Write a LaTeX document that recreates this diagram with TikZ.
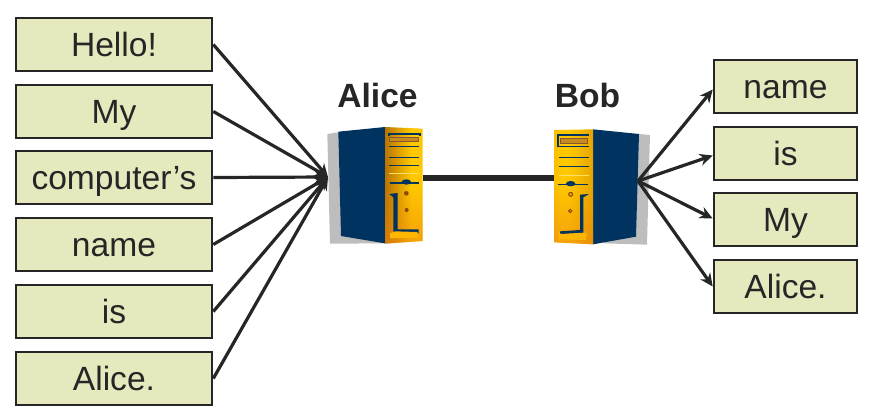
\documentclass[tikz,border=0pt]{standalone}
\usepackage{fontspec}
\setmainfont{Liberation Sans}
\usetikzlibrary{arrows.meta,fadings}
\definecolor{ink}{HTML}{262626}
\definecolor{boxfill}{HTML}{E6E9BE}
\definecolor{navy}{HTML}{00335F}
\definecolor{shadowgray}{HTML}{BDBDBD}
\definecolor{golddark}{HTML}{B87400}
\definecolor{goldmid}{HTML}{FFC800}
\definecolor{goldend}{HTML}{E9A800}
\definecolor{slotgold}{HTML}{C98A1E}
\definecolor{knob}{HTML}{8A4B00}
\pgfdeclarehorizontalshading{alicegold}{100bp}{color(0bp)=(golddark); color(25bp)=(golddark); color(60bp)=(goldmid); color(70bp)=(goldmid); color(100bp)=(goldend)}
\pgfdeclarehorizontalshading{bobgold}{100bp}{color(0bp)=(goldend); color(35bp)=(goldmid); color(45bp)=(goldmid); color(72bp)=(goldend); color(100bp)=(golddark)}
\tikzset{
  word/.style={draw=ink,line width=2.6pt,fill=boxfill,text=ink,inner sep=0pt,font=\fontsize{33.6}{33.6}\selectfont,anchor=center,text height=23.5pt,text depth=0pt},
  leftword/.style={word,minimum width=196pt,minimum height=53pt},
  rightword/.style={word,minimum width=143pt,minimum height=53pt},
  who/.style={text=ink,inner sep=0pt,font=\fontsize{33.6}{33.6}\selectfont\bfseries},
  link/.style={draw=ink,line width=3.2pt},
  arrowlink/.style={link,-{Stealth[length=13pt,width=12pt]}},
  wire/.style={draw=ink,line width=6pt},
  panelline/.style={draw=navy,line width=1.2pt},
  zoomA/.style={x=0.33333pt,y=-0.33333pt,shift={(930,210)}},
  zoomB/.style={x=0.33333pt,y=-0.33333pt,shift={(1620,210)}},
}
\begin{document}
\begin{tikzpicture}[x=1pt,y=-1pt]
\useasboundingbox (0,0) rectangle (874,418);
% Alice tower
\begin{scope}[zoomA]
\fill[shadowgray] (52,192) -- (90,186) -- (225,520) -- (60,521) -- cycle;
\fill[navy] (85,185) -- (225,171) -- (225,520) -- (93,498) -- cycle;
\shade[shading=alicegold] (225,171) -- (338,176) -- (338,513) -- (225,521) -- cycle;
\fill[orange!70!brown,path fading=north,opacity=.55] (225,345) -- (338,345) -- (338,513) -- (225,521) -- cycle;
\draw[panelline,line width=1.8pt] (238,198) -- (238,193) -- (330,193) -- (330,198);
\fill[slotgold,draw=brown!70!black,line width=.5pt] (238,203) rectangle (326,215);
\draw[panelline,line width=.9pt] (238,228) -- (328,228) (238,262) -- (328,262) (238,286) -- (328,286);
\draw[goldmid!60!white,line width=.8pt] (238,310) -- (328,310);
\draw[panelline,line width=1.6pt] (240,339) -- (328,339);
\fill[navy] (289,336) ellipse (14 and 8);
\fill[knob] (289,370) circle (7) (290,420) circle (6);
\fill[navy] (238,372) -- (263,369) -- (263,478) -- (326,478) -- (326,490) -- (258,490) -- (250,484) -- (250,382) -- cycle;
\fill[goldmid!75!orange] (240,490) -- (256,484) -- (322,486) -- (326,503) -- (240,505) -- cycle;
\end{scope}
% Bob tower
\begin{scope}[zoomB]
\fill[shadowgray] (297,192) -- (330,195) -- (321,524) -- (190,520) -- cycle;
\fill[navy] (159,178) -- (297,192) -- (288,500) -- (159,523) -- cycle;
\shade[shading=bobgold] (42,180) -- (159,178) -- (159,523) -- (42,517) -- cycle;
\fill[orange!70!brown,path fading=north,opacity=.55] (42,345) -- (159,345) -- (159,523) -- (42,517) -- cycle;
\draw[panelline,line width=1.8pt] (55,230) -- (55,195) -- (147,195);
\fill[slotgold,draw=brown!70!black,line width=.5pt] (60,206) rectangle (143,220);
\draw[panelline,line width=.9pt] (55,229) -- (147,229) (57,263) -- (147,263) (57,288) -- (147,288);
\draw[goldmid!60!white,line width=.8pt] (57,316) -- (147,316);
\draw[panelline,line width=1.6pt] (55,343) -- (143,343);
\fill[navy] (92,341) ellipse (14 and 8);
\filldraw[fill=goldend,draw=knob,line width=1pt] (92,373) circle (6) (91,423) circle (5);
\fill[navy] (147,372) -- (120,374) -- (120,480) -- (60,484) -- (60,492) -- (130,490) -- (130,382) -- cycle;
\fill[goldmid!75!orange] (56,484) -- (62,492) -- (132,488) -- (140,488) -- (138,510) -- (56,508) -- cycle;
\end{scope}
% named parts
\node[minimum width=96pt,minimum height=116pt,inner sep=0pt] (alice) at (375,185) {};
\node[minimum width=96pt,minimum height=116pt,inner sep=0pt] (bob) at (602,185) {};
\coordinate (alicehub) at (328,177);
\coordinate (bobhub) at (638,181);
\coordinate (alicewire) at (423,177.5);
\coordinate (bobwire) at (554,177.5);
\node[who] (alicename) at (377.5,95) {Alice};
\node[who] (bobname) at (587.5,95) {Bob};
\node[leftword] (l1) at (114,44.5) {Hello!};
\node[leftword] (l2) at (114,111.5) {My};
\node[leftword] (l3) at (114,177.5) {computer’s};
\node[leftword] (l4) at (114,244.5) {name};
\node[leftword] (l5) at (114,311.5) {is};
\node[leftword] (l6) at (114,378.5) {Alice.};
\node[rightword] (r1) at (785.5,86.5) {name};
\node[rightword] (r2) at (785.5,153.5) {is};
\node[rightword] (r3) at (785.5,219.5) {My};
\node[rightword] (r4) at (785.5,286.5) {Alice.};
\foreach \n in {l1,l2,l3,l4,l5,l6}{\draw[arrowlink] (\n.east) -- (alicehub);}
\foreach \n/\d in {r1/-3,r2/-2,r3/1,r4/0}{\draw[arrowlink] (bobhub) -- ([yshift=\d pt]\n.west);}
\draw[wire] (alicewire) -- (bobwire);
\end{tikzpicture}
\end{document}
